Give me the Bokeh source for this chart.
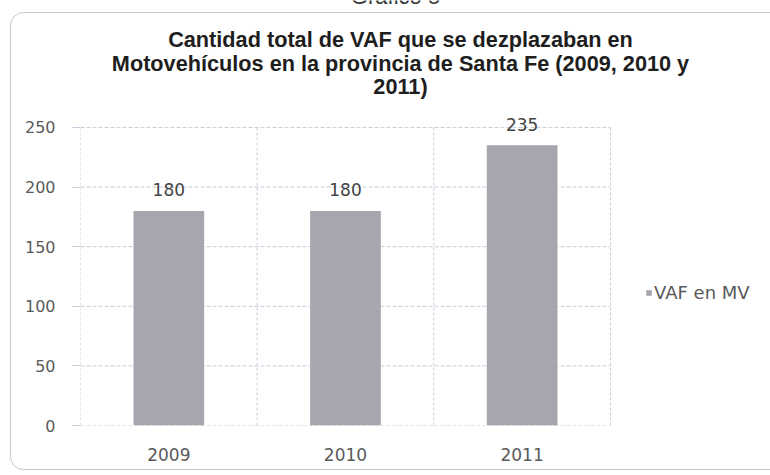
from bokeh.plotting import figure
from bokeh.models import (ColumnDataSource, FixedTicker, LabelSet, Label, Legend,
                          LegendItem, Range1d)
from bokeh.core.properties import value
from bokeh.embed import file_html
from bokeh.resources import INLINE

categories = ["2009", "2010", "2011"]
values = [180, 180, 235]
y_ticks = [0, 50, 100, 150, 200, 250]
title_lines = ["Cantidad total de VAF que se dezplazaban en",
               "Motovehículos en la provincia de Santa Fe (2009, 2010 y",
               "2011)"]
caption = "Gráfico 5"
series_name = "VAF en MV"

n = len(categories)
x_pos = [i + 0.5 for i in range(n)]
src = ColumnDataSource(dict(x=x_pos, top=values, label=[str(v) for v in values]))

# frame extends over title/legend area so annotations are not clipped
p = figure(width=770, height=475, output_backend="svg", toolbar_location=None,
           x_range=Range1d(0, 3.906), y_range=Range1d(0, 356.5),
           min_border_left=80, min_border_right=0, min_border_top=0,
           min_border_bottom=50)
# rounded chart-area border drawn as a CSS background behind the transparent plot
bg_svg = ("<svg xmlns='http://www.w3.org/2000/svg' width='770' height='475'>"
          "<rect x='10.5' y='12.5' width='800' height='457' rx='13' ry='13' "
          "fill='none' stroke='%23c6c6cc' stroke-width='1'/></svg>")
p.styles = {"background-image": f"url(\"data:image/svg+xml;utf8,{bg_svg}\")",
            "background-repeat": "no-repeat", "background-color": "white"}
p.outline_line_color = None
p.background_fill_alpha = 0
p.border_fill_alpha = 0
p.xgrid.visible = False
p.ygrid.visible = False

grid_col = "#c9cbdb"
gy = y_ticks
p.segment(x0=[0] * len(gy), x1=[n] * len(gy), y0=gy, y1=gy,
          line_color=grid_col, line_dash="4 2", line_width=1)
gx = list(range(n + 1))
p.segment(x0=gx, x1=gx, y0=[0] * len(gx), y1=[max(y_ticks)] * len(gx),
          line_color=grid_col, line_dash="3 2", line_width=1)

bars = p.vbar(x="x", top="top", width=0.40, bottom=0, source=src,
              fill_color="#a7a5ae", line_color=None)

p.xaxis.ticker = FixedTicker(ticks=x_pos)
p.xaxis.major_label_overrides = {x: c for x, c in zip(x_pos, categories)}
p.yaxis.ticker = FixedTicker(ticks=y_ticks)

for ax in (p.xaxis, p.yaxis):
    ax.axis_line_color = None
    ax.major_label_text_font = "DejaVu Sans"
    ax.major_label_text_color = "#5a5a5a"
    ax.minor_tick_line_color = None
p.xaxis.major_label_text_font_size = "17px"
p.yaxis.major_label_text_font_size = "16px"
p.xaxis.major_tick_line_color = None
p.xaxis.major_label_standoff = 16
p.yaxis.major_tick_line_color = grid_col
p.yaxis.major_tick_out = 8
p.yaxis.major_tick_in = 0
p.yaxis.major_label_standoff = 17

labels = LabelSet(x="x", y="top", text="label", source=src, y_offset=21,
                  text_align="center", text_baseline="middle",
                  text_font=value("DejaVu Sans"), text_font_size=value("17px"),
                  text_color="#444444")
p.add_layout(labels)

p.add_layout(Label(x=315, y=429, x_units="screen", y_units="screen", text=caption,
                   text_align="center", text_baseline="alphabetic",
                   text_font="Liberation Sans", text_font_size="22px",
                   text_color="#333333"))

title_y = [386, 362, 339]
for line, ty in zip(title_lines, title_y):
    p.add_layout(Label(x=320, y=ty, x_units="screen", y_units="screen", text=line,
                       text_align="center", text_baseline="middle",
                       text_font="Liberation Sans", text_font_style="bold",
                       text_font_size="21.7px", text_color="#1e1e1e"))

legend = Legend(items=[LegendItem(label=series_name, renderers=[bars])],
                location=(565, 122), orientation="vertical",
                border_line_color=None, background_fill_alpha=0,
                padding=0, margin=0, spacing=0,
                glyph_width=7, glyph_height=7, label_height=20, label_standoff=2,
                label_text_font="DejaVu Sans", label_text_font_size="18px",
                label_text_color="#5a5a5a")
p.add_layout(legend, "center")

open("out.html", "w").write(file_html(p, INLINE))
